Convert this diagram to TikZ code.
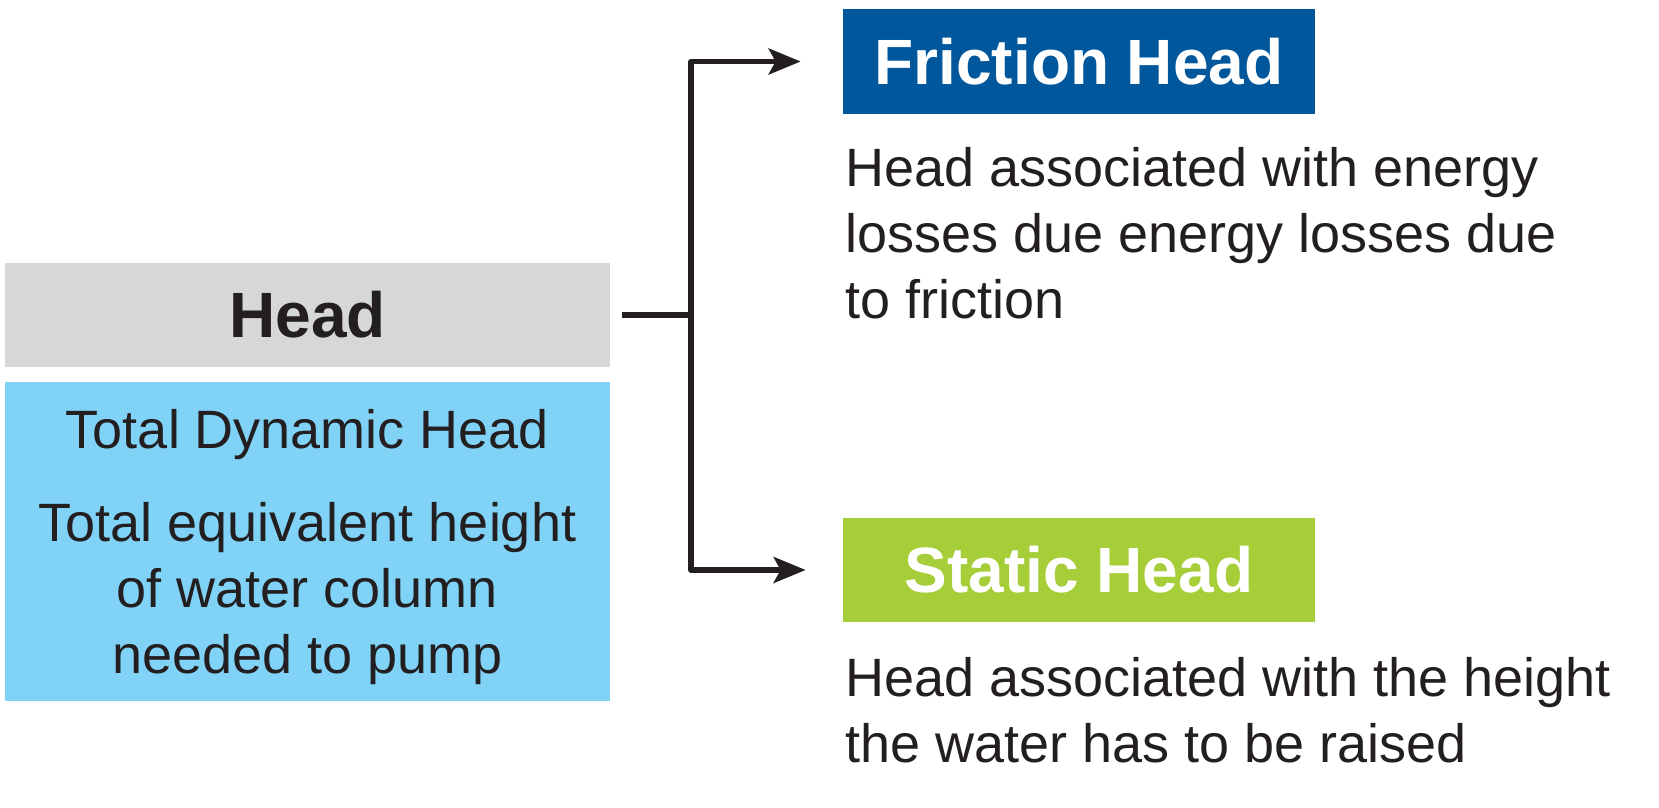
\documentclass[tikz,border=0pt]{standalone}
\usepackage{fontspec}
\setmainfont{Liberation Sans}
\usetikzlibrary{arrows.meta}
\definecolor{headgray}{HTML}{D6D7D9}
\definecolor{tdhblue}{HTML}{80D3F6}
\definecolor{fricblue}{HTML}{00579C}
\definecolor{statgreen}{HTML}{A5CE39}
\definecolor{txtcol}{HTML}{231F20}
\begin{document}
\begin{tikzpicture}[x=0.5pt,y=-0.5pt,
  txt/.style={text=txtcol, font=\fontsize{27pt}{33pt}\selectfont, inner sep=0pt},
  titlebox/.style={font=\fontsize{32pt}{38pt}\selectfont\bfseries, inner sep=0pt},
  conn/.style={line width=2.6pt, draw=txtcol, line join=round},
  arr/.style={conn, -{Stealth[length=16pt,width=13pt,inset=3.5pt]}}]
\useasboundingbox (0,0) rectangle (1659,808);
\node[titlebox, fill=headgray, text=txtcol, minimum width=302.5pt, minimum height=52pt] (head) at (307.5,315) {Head};
\node[fill=tdhblue, minimum width=302.5pt, minimum height=159.5pt, inner sep=0pt] (tdh) at (307.5,541.5) {};
\node[txt, align=center] (tdhtext) at ([yshift=-2.75pt]tdh.center)
  {Total Dynamic Head\\[13.5pt]Total equivalent height\\of water column\\needed to pump};
\node[titlebox, fill=fricblue, text=white, minimum width=236pt, minimum height=52.5pt] (fric) at (1079,61.5) {Friction Head};
\node[titlebox, fill=statgreen, text=white, minimum width=236pt, minimum height=52pt] (stat) at (1079,570) {Static Head};
\node[txt, anchor=north west, align=left] (fricdesc) at (845,147)
  {Head associated with energy\\losses due energy losses due\\to friction};
\node[txt, anchor=north west, align=left] (statdesc) at (845,657)
  {Head associated with the height\\the water has to be raised};
\coordinate (hub) at (691,315);
\draw[conn] ([xshift=6pt]head.east) -- (hub);
\draw[arr] (hub) |- ([xshift=-21pt]fric.west);
\draw[arr] (hub) |- ([xshift=-18.5pt]stat.west);
\end{tikzpicture}
\end{document}
